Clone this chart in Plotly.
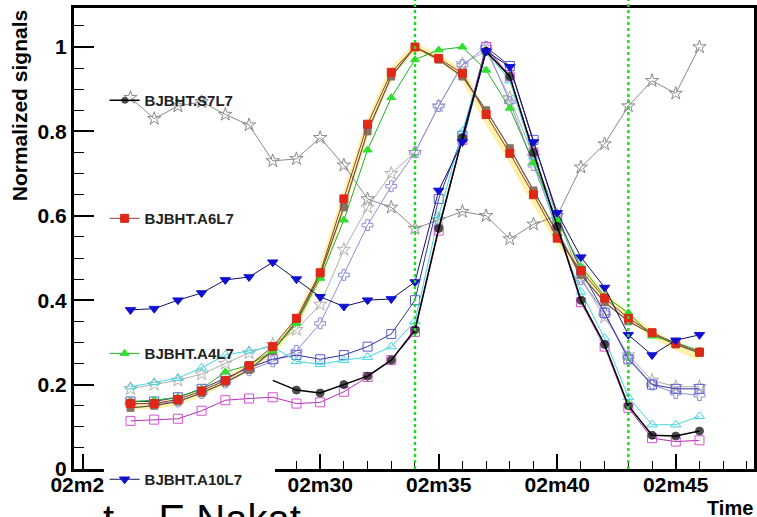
import plotly.graph_objects as go

# ---------------- data ----------------
minutes = list(range(22, 47))          # 02m22 ... 02m46
day = "2009-11-23"
event_minutes = [34, 43]               # green dotted markers
tick_minutes = [20, 25, 30, 35, 40, 45]

s7l7 = [None, None, None, None, None, None, 0.21, 0.187, 0.18, 0.20, 0.22, 0.258, 0.33,
        0.57, 0.785, 0.99, 0.93, 0.75, 0.575, 0.40, 0.295, 0.15, 0.08, 0.078, 0.09]
a6l7 = [0.155, 0.155, 0.165, 0.185, 0.21, 0.245, 0.29, 0.357, 0.465, 0.64, 0.817, 0.94, 1.0,
        0.973, 0.938, 0.84, 0.748, 0.65, 0.547, 0.47, 0.405, 0.357, 0.323, 0.298, 0.277]
a4l7 = [0.16, 0.163, 0.17, 0.19, 0.23, 0.246, 0.28, 0.345, 0.452, 0.59, 0.756, 0.88, 0.97,
        0.993, 1.0, 0.945, 0.855, 0.725, 0.59, 0.48, 0.41, 0.37, 0.315, 0.30, 0.28]
a10l7 = [0.377, 0.38, 0.40, 0.417, 0.448, 0.455, 0.49, 0.45, 0.408, 0.385, 0.40, 0.403, 0.443,
         0.66, 0.775, 0.99, 0.953, 0.775, 0.607, 0.502, 0.43, 0.318, 0.27, 0.305, 0.318]
grey_star = [0.88, 0.83, 0.86, 0.87, 0.84, 0.815, 0.73, 0.735, 0.785, 0.72, 0.64, 0.62, 0.57,
             0.59, 0.61, 0.60, 0.545, 0.58, 0.60, 0.715, 0.77, 0.86, 0.92, 0.89, 1.0]
pale_star = [0.19, 0.20, 0.21, 0.225, 0.25, 0.275, 0.295, 0.33, 0.39, 0.52, 0.62, 0.70, 0.75,
             0.86, 0.96, 0.99, 0.88, 0.74, 0.60, 0.45, 0.36, 0.27, 0.21, 0.195, 0.195]
lavender = [0.155, 0.155, 0.16, 0.18, 0.205, 0.234, 0.255, 0.28, 0.345, 0.46, 0.578, 0.67, 0.75,
            0.86, 0.957, 1.0, 0.87, 0.72, 0.57, 0.45, 0.37, 0.265, 0.20, 0.18, 0.175]
blue_sq = [0.16, 0.16, 0.17, 0.19, 0.215, 0.24, 0.26, 0.27, 0.26, 0.27, 0.29, 0.32, 0.40,
           0.64, 0.79, 1.0, 0.955, 0.78, 0.60, 0.47, 0.37, 0.26, 0.20, 0.19, 0.19]
cyan = [0.195, 0.205, 0.215, 0.24, 0.27, 0.28, 0.29, 0.255, 0.248, 0.258, 0.265, 0.29, 0.35,
        0.60, 0.80, 0.99, 0.92, 0.74, 0.56, 0.42, 0.31, 0.17, 0.105, 0.105, 0.125]
magenta = [0.114, 0.117, 0.119, 0.138, 0.163, 0.167, 0.17, 0.155, 0.158, 0.183, 0.218, 0.258,
           0.325, 0.565, 0.78, 1.0, 0.93, 0.75, 0.575, 0.395, 0.29, 0.145, 0.073, 0.065, 0.068]
brown = [0.145, 0.15, 0.16, 0.18, 0.205, 0.235, 0.28, 0.35, 0.46, 0.62, 0.80, 0.93, 1.0,
         0.97, 0.93, 0.85, 0.76, 0.66, 0.56, 0.46, 0.395, 0.35, 0.32, 0.295, 0.275]
yellow = [0.15, 0.15, 0.16, 0.18, 0.21, 0.24, 0.28, 0.35, 0.46, 0.63, 0.81, 0.94, 1.0,
          0.975, 0.935, 0.83, 0.74, 0.64, 0.545, 0.47, 0.41, 0.36, 0.32, 0.29, 0.265]

footer_text = "t\u00a0\u00a0\u00a0\u00a0E Nakat"


def t(m):
    return f"{day} 02:{m:02d}:00"


times = [t(m) for m in minutes]
FONT = "Liberation Sans"

fig = go.Figure()


def add(y, name, color, symbol, line_color=None, size=8, legend=None,
        width=1, mode="lines+markers", msize=None):
    fig.add_trace(go.Scatter(
        x=times, y=y, name=name, mode=mode, showlegend=legend is not None,
        legend=legend or "legend",
        line=dict(color=line_color or color, width=width),
        marker=dict(symbol=symbol, size=msize if msize is not None else size, color=color,
                    line=dict(color=color, width=1)),
        connectgaps=False,
    ))


add(yellow, "yellow", "rgba(255,225,60,0.45)", "circle", width=7, mode="lines")
add(grey_star, "grey star", "#8a8a8a", "star-open", width=1, size=10)
add(pale_star, "pale star", "#b0b0b0", "star-open", width=1, size=10)
add(lavender, "lavender", "#8c8cd8", "cross-open", width=1, size=9)
add(blue_sq, "blue square", "#5a5ad8", "square-open", line_color="#3030a0", width=1, size=9)
add(cyan, "cyan", "#40d8e0", "triangle-up-open", width=1, size=9)
add(magenta, "magenta", "#d850d8", "square-open", line_color="#b030b0", width=1, size=9)
add(brown, "brown", "#8a7060", "square", line_color="#605048", width=1.2, size=7)
add(a4l7, "BJBHT.A4L7", "#30e030", "triangle-up", line_color="#20b020", legend="legend3", size=8)
add(a6l7, "BJBHT.A6L7", "#e02818", "square", line_color="#904030", legend="legend2", size=8)
black_sizes = [0 if (i == 0 or s7l7[i - 1] is None) else 8 for i in range(len(s7l7))]
add(s7l7, "BJBHT.S7L7", "#000000", "circle", legend="legend", msize=black_sizes, width=1.5)
add(a10l7, "BJBHT.A10L7", "#1010d0", "triangle-down", line_color="#101060", legend="legend4", size=9)

# green dotted event lines
for m in event_minutes:
    fig.add_shape(type="line", xref="x", yref="paper", x0=t(m), x1=t(m), y0=0, y1=1.02,
                  line=dict(color="#22d822", width=2.5, dash="dot"), layer="above")

# white patch hiding part of the time axis (legend box in the original)
fig.add_shape(type="rect", xref="paper", yref="paper", x0=0.044, x1=0.2956,
              y0=-0.07, y1=0.04, fillcolor="white", line=dict(width=0), layer="above")

leg_common = dict(x=0.045, xanchor="left", yanchor="top", bgcolor="rgba(0,0,0,0)",
                  font=dict(family=FONT, size=15, weight="bold", color="#222"), itemwidth=30)

fig.update_layout(
    width=757, height=517,
    margin=dict(l=74, r=3, t=8, b=48, autoexpand=False),
    paper_bgcolor="white", plot_bgcolor="white",
    font=dict(family=FONT, color="black"),
    showlegend=True,
    legend=dict(y=0.835, **leg_common),
    legend2=dict(y=0.579, **leg_common),
    legend3=dict(y=0.286, **leg_common),
    legend4=dict(y=0.013, **leg_common),
    xaxis=dict(
        type="date", range=[f"{day} 02:19:37", f"{day} 02:48:18"],
        tickmode="array", tickvals=[t(m) for m in tick_minutes],
        tickformat="%Hm%M",
        ticks="inside", ticklen=15, tickwidth=1.5, tickcolor="black",
        minor=dict(ticks="inside", ticklen=8, tickwidth=1.2, tickcolor="black",
                   dtick=60000, tick0=f"{day} 02:20:00"),
        showline=True, linewidth=3, linecolor="black", mirror=True,
        showgrid=False, zeroline=False, ticklabelstandoff=-5,
        tickfont=dict(family=FONT, size=21, weight="bold"),
    ),
    yaxis=dict(
        range=[0, 1.0924], dtick=0.2, tick0=0,
        ticks="inside", ticklen=20, tickwidth=1.5, tickcolor="black",
        minor=dict(ticks="inside", ticklen=10, tickwidth=1.2, tickcolor="black", dtick=0.05),
        showline=True, linewidth=3, linecolor="black", mirror=True,
        showgrid=False, zeroline=False,
        tickfont=dict(family=FONT, size=21, weight="bold"),
    ),
    annotations=[
        dict(text="Normalized signals", xref="paper", yref="paper", x=-0.079, y=0.999,
             xanchor="center", yanchor="top", textangle=-90, showarrow=False,
             font=dict(family=FONT, size=21, weight="bold")),
        dict(text="Time", xref="paper", yref="paper", x=1.0015, y=-0.085,
             xanchor="right", yanchor="middle", showarrow=False,
             font=dict(family=FONT, size=20, weight="bold")),
        dict(text=footer_text, xref="paper", yref="paper", x=0.04, y=-0.056,
             xanchor="left", yanchor="top", showarrow=False,
             font=dict(family="Liberation Sans", size=40, color="black")),
    ],
)

fig.write_html("out.html", config={"displayModeBar": False},
               post_script="document.body.style.margin='0px';")
